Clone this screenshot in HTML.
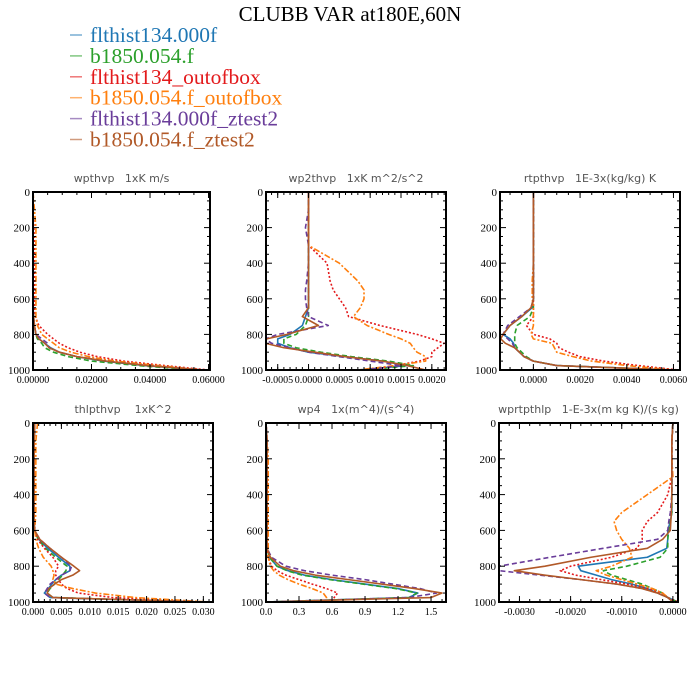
<!DOCTYPE html>
<html><head><meta charset="utf-8"><style>
body{margin:0;background:#fff;width:700px;height:700px;overflow:hidden}
svg{display:block}
text{white-space:pre}
</style></head><body>
<svg id="chart" width="700" height="700" xmlns="http://www.w3.org/2000/svg">
<rect width="700" height="700" fill="#fff"/>
<text x="350" y="21" text-anchor="middle" font-family="Liberation Serif, serif" font-size="21">CLUBB VAR at180E,60N</text>
<g id="legend"></g>
<g id="panels"></g>
</svg>
<script>
const NS="http://www.w3.org/2000/svg";
const levels=[0,100,200,300,400,500,550,600,650,700,750,800,825,850,875,900,925,950,975,1000];
const seriesNames=["flthist134.000f","b1850.054.f","flthist134_outofbox","b1850.054.f_outofbox","flthist134.000f_ztest2","b1850.054.f_ztest2"];
const seriesColors=["#1f77b4","#2ca02c","#e31a1c","#ff7f0e","#6a3d9a","#b15928"];
const seriesDash=["","5,3","2,2","6,2,2,2","5,3",""];
const panelTitles=["wpthvp   1xK m/s","wp2thvp   1xK m^2/s^2","rtpthvp   1E-3x(kg/kg) K","thlpthvp    1xK^2","wp4   1x(m^4)/(s^4)","wprtpthlp   1-E-3x(m kg K)/(s kg)"];
const xDomains=[[0,0.0605],[-0.00069,0.00223],[-0.00143,0.00628],[0,0.0317],[0,1.636],[-0.0034,0.0001]];
const xTicks=[[0,0.02,0.04,0.06],[-0.0005,0,0.0005,0.001,0.0015,0.002],[0,0.002,0.004,0.006],[0,0.005,0.01,0.015,0.02,0.025,0.03],[0,0.3,0.6,0.9,1.2,1.5],[-0.003,-0.002,-0.001,0]];
const xTickLabels=[["0.00000","0.02000","0.04000","0.06000"],["-0.0005","0.0000","0.0005","0.0010","0.0015","0.0020"],["0.0000","0.0020","0.0040","0.0060"],["0.000","0.005","0.010","0.015","0.020","0.025","0.030"],["0.0","0.3","0.6","0.9","1.2","1.5"],["-0.0030","-0.0020","-0.0010","0.0000"]];
const xMinorStep=[0.005,0.0001,0.0005,0.001,0.1,0.0002];
const yTicks=[0,200,400,600,800,1000];
// values per panel: [blue, green, red, orange, purple, brown], each over levels
const wpthvp=[
[0,0,0,0,0,0,0,0,0,0.0002,0.0005,0.001,0.002,0.004,0.006,0.009,0.015,0.024,0.038,0.057],
[0,0,0,0,0,0,0,0,0,0.0002,0.0004,0.001,0.0015,0.003,0.004,0.007,0.012,0.02,0.036,0.055],
[0,0,0.0003,0.0005,0.0005,0.0005,0.0005,0.0005,0.0005,0.0008,0.002,0.005,0.007,0.009,0.012,0.016,0.022,0.031,0.045,0.06],
[0,0.0005,0.001,0.001,0.001,0.001,0.001,0.001,0.001,0.001,0.0015,0.003,0.005,0.007,0.009,0.013,0.019,0.028,0.043,0.058],
[0,0,0,0,0,0,0,0,0,0.0002,0.0005,0.001,0.003,0.005,0.0055,0.009,0.015,0.025,0.039,0.058],
[0,0,0,0,0,0,0,0,0,0.0002,0.0005,0.001,0.002,0.004,0.0055,0.009,0.015,0.025,0.039,0.058]];
const wp2thvp=[
[0,0,0,0,0,0,0,0,0,-0.00005,-0.0001,-0.0003,-0.0005,-0.0005,-0.0003,0,0.0006,0.0012,0.0016,0.0008],
[0,0,0,0,0,0,0,0,0,0,-0.00005,-0.0002,-0.0004,-0.0004,-0.0002,0.0002,0.0007,0.0013,0.0017,0.0009],
[0,0,0,0,0.0003,0.00035,0.0004,0.0005,0.0006,0.00065,0.00116,0.00176,0.002,0.0022,0.0021,0.002,0.002,0.0018,0.0014,0.001],
[0,0,0,0,0.0005,0.0008,0.0009,0.0009,0.00084,0.00073,0.00095,0.0013,0.0015,0.00165,0.0017,0.00176,0.0019,0.0019,0.0014,0.0008],
[0,0,-0.00005,0,0,-0.00003,-0.00005,-0.00005,-0.00003,0,0.00032,-0.0005,-0.0007,-0.0006,-0.0003,0,0.0005,0.001,0.0015,0.0009],
[0,0,0,0,0,0,0,0,0,-0.0001,0.00016,-0.00035,-0.00068,-0.0007,-0.0004,0.0001,0.0006,0.0012,0.0016,0.0019]];
const rtpthvp=[
[0,0,0,0,0,0,0,0,-0.00005,-0.0005,-0.001,-0.0013,-0.001,-0.00085,-0.0008,-0.0006,-0.0004,0,0.001,0.006],
[0,0,0,0,0,0,0,0,0,-0.00015,-0.0007,-0.0008,-0.0008,-0.0008,-0.0007,-0.0005,-0.0003,0,0.001,0.006],
[0,0,0,0,0,0,0,0,0,0,-0.0003,0,0.0007,0.001,0.0011,0.0015,0.002,0.003,0.0045,0.0062],
[0,0,0,0,0,-0.00005,-0.00005,-0.00005,0,0,0,-0.0001,0,0.0008,0.0009,0.001,0.0017,0.0025,0.004,0.006],
[0,0,0,0,0,0,0,0,-0.0001,-0.0006,-0.0011,-0.0013,-0.0011,-0.0009,-0.0008,-0.0006,-0.0004,0,0.001,0.006],
[0,0,0,0,0,0,0,0,-0.0001,-0.0005,-0.001,-0.0013,-0.0014,-0.0012,-0.0008,-0.0006,-0.0004,0,0.001,0.006]];
const thlpthvp=[
[0.0003,0.0002,0.0002,0.0002,0.0002,0.0002,0.0002,0.0003,0.001,0.0026,0.0045,0.0065,0.0065,0.005,0.004,0.0033,0.0027,0.002,0.003,0.03],
[0.0003,0.0002,0.0002,0.0002,0.0002,0.0002,0.0002,0.0003,0.0009,0.0022,0.004,0.006,0.0058,0.0052,0.0045,0.0038,0.003,0.0025,0.0035,0.03],
[0.0003,0.0002,0.0002,0.0002,0.0002,0.0002,0.0002,0.0003,0.0008,0.002,0.0035,0.0045,0.004,0.004,0.0045,0.005,0.006,0.008,0.014,0.03],
[0.0008,0.0005,0.0005,0.0005,0.0005,0.0005,0.0004,0.0003,0.0005,0.001,0.0018,0.0032,0.0035,0.0037,0.0035,0.004,0.007,0.011,0.018,0.031],
[0.0003,0.0002,0.0002,0.0002,0.0002,0.0002,0.0002,0.0003,0.0012,0.003,0.005,0.0068,0.0065,0.005,0.004,0.003,0.0025,0.002,0.003,0.03],
[0.0003,0.0002,0.0002,0.0002,0.0002,0.0002,0.0002,0.0003,0.0012,0.003,0.005,0.0072,0.0082,0.007,0.005,0.0038,0.0028,0.0025,0.0035,0.03]];
const wp4=[
[0,0.01,0.01,0.01,0.01,0.01,0.01,0.01,0.01,0.01,0.03,0.1,0.2,0.35,0.6,0.9,1.2,1.38,1.3,0],
[0,0.01,0.01,0.01,0.01,0.01,0.01,0.01,0.01,0.01,0.03,0.1,0.19,0.33,0.58,0.88,1.18,1.37,1.3,0],
[0,0.01,0.01,0.01,0.01,0.01,0.01,0.01,0.01,0.01,0.02,0.05,0.1,0.18,0.3,0.42,0.55,0.65,0.62,0.6],
[0,0.01,0.02,0.02,0.02,0.02,0.02,0.02,0.02,0.02,0.02,0.04,0.07,0.12,0.2,0.3,0.42,0.52,0.55,0.55],
[0,0.01,0.01,0.01,0.01,0.01,0.01,0.01,0.01,0.01,0.05,0.18,0.35,0.6,0.9,1.15,1.4,1.55,1.3,0],
[0,0.01,0.01,0.01,0.01,0.01,0.01,0.01,0.01,0.01,0.04,0.13,0.25,0.45,0.75,1.05,1.35,1.6,1.5,0]];
const wprtpthlp=[
[0,-0.00002,-0.00002,-0.00002,-0.00002,-0.00002,-0.00005,-0.0001,-0.0001,-0.00012,-0.0005,-0.00185,-0.0018,-0.0015,-0.0012,-0.0008,-0.0005,-0.0003,-0.0001,0.0001],
[0,-0.00002,-0.00002,-0.00002,-0.00002,-0.00002,-0.00005,-0.00008,-0.0001,-0.0001,-0.00025,-0.0009,-0.00136,-0.0012,-0.0009,-0.0006,-0.0004,-0.0002,-0.0001,0.0001],
[0,-0.00002,-0.00002,-0.00002,-0.0001,-0.0003,-0.0005,-0.0006,-0.0006,-0.0007,-0.0012,-0.002,-0.0022,-0.0019,-0.0014,-0.0009,-0.0005,-0.0002,-0.0001,0.0001],
[0,-0.00002,-0.00002,0,-0.0005,-0.001,-0.00115,-0.0011,-0.001,-0.00085,-0.0008,-0.0012,-0.0015,-0.0013,-0.001,-0.0007,-0.0004,-0.0002,-0.0001,0],
[0,-0.00002,-0.00002,-0.00002,-0.00002,-0.00005,-0.00008,-0.0001,-0.0003,-0.00136,-0.0024,-0.0034,-0.0034,-0.0026,-0.0018,-0.0011,-0.0006,-0.0003,-0.0001,0],
[0,-0.00002,-0.00002,-0.00002,-0.00002,-0.00003,-0.00004,-0.00005,-0.0002,-0.0005,-0.0016,-0.0025,-0.0031,-0.0025,-0.0018,-0.0011,-0.0006,-0.0003,-0.0001,0]];
const panelData=[wpthvp,wp2thvp,rtpthvp,thlpthvp,wp4,wprtpthlp];
const panelNames=["wpthvp","wp2thvp","rtpthvp","thlpthvp","wp4","wprtpthlp"];
const boxes=[[33,192,177,178],[266,192,180,178],[500,192,180,178],[33,423,180,179],[266,423,180,179],[499,423,179,179]];

function el(tag,attrs,parent){const e=document.createElementNS(NS,tag);for(const k in attrs)e.setAttribute(k,attrs[k]);parent.appendChild(e);return e;}

const legend=document.getElementById('legend');
seriesNames.forEach((n,i)=>{
  const y=35+i*20.9;
  const ln=el('line',{x1:70,x2:82,y1:y,y2:y,stroke:seriesColors[i],'stroke-width':1.5,'stroke-opacity':0.6},legend);
  
  
  const t=el('text',{x:90,y:y+7,fill:seriesColors[i],'font-family':'Liberation Serif, serif','font-size':21.5},legend);
  t.textContent=n;
  
  
});

const panels=document.getElementById('panels');
panelData.forEach((data,p)=>{
  const [bx,by,bw,bh]=boxes[p];
  const [x0,x1]=xDomains[p];
  const sx=v=>bx+(v-x0)/(x1-x0)*bw;
  const sy=v=>by+v/1000*bh;
  const g=el('g',{},panels);
  
  
  const tt=el('text',{x:bx+bw/2,y:by-10,'text-anchor':'middle','font-family':'DejaVu Sans, sans-serif','font-size':11,fill:'#555'},g);
  tt.textContent=panelTitles[p];
  
  
  const cp='clip'+p;
  const defs=el('defs',{},g);
  const c=el('clipPath',{id:cp},defs);
  el('rect',{x:bx,y:by,width:bw,height:bh},c);
  const lg=el('g',{'clip-path':'url(#'+cp+')'},g);
  data.forEach((vals,s)=>{
    const d=vals.map((v,i)=>(i?'L':'M')+sx(v).toFixed(2)+','+sy(levels[i]).toFixed(2)).join('');
    const path=el('path',{d:d,fill:'none',stroke:seriesColors[s],'stroke-width':1.6,'stroke-linejoin':'round'},lg);
    if(seriesDash[s])path.setAttribute('stroke-dasharray',seriesDash[s]);
    
    
  });
  const tk=el('g',{stroke:'#000','stroke-width':1},g);
  yTicks.forEach(v=>{
    const y=sy(v);
    el('line',{x1:bx,x2:bx+6,y1:y,y2:y},tk);el('line',{x1:bx+bw-6,x2:bx+bw,y1:y,y2:y},tk);
    const t=el('text',{x:bx-3,y:y+4,'text-anchor':'end','font-family':'Liberation Serif, serif','font-size':11},g);
    t.textContent=v;
    
    
  });
  for(let v=50;v<1000;v+=50){if(v%200===0)continue;const y=sy(v);
    el('line',{x1:bx,x2:bx+3,y1:y,y2:y},tk);el('line',{x1:bx+bw-3,x2:bx+bw,y1:y,y2:y},tk);}
  const ms=xMinorStep[p];
  for(let k=Math.ceil(x0/ms);k*ms<=x1;k++){const x=sx(k*ms);
    el('line',{x1:x,x2:x,y1:by,y2:by+3},tk);el('line',{x1:x,x2:x,y1:by+bh-3,y2:by+bh},tk);}
  xTicks[p].forEach((v,i)=>{
    const x=sx(v);
    el('line',{x1:x,x2:x,y1:by,y2:by+6},tk);el('line',{x1:x,x2:x,y1:by+bh-6,y2:by+bh},tk);
    const t=el('text',{x:x,y:by+bh+13,'text-anchor':'middle','font-family':'Liberation Serif, serif','font-size':10},g);
    t.textContent=xTickLabels[p][i];
    
    
  });
  const fr=el('rect',{x:bx,y:by,width:bw,height:bh,fill:'none',stroke:'#000','stroke-width':2},g);
  
  
});
</script>
</body></html>
